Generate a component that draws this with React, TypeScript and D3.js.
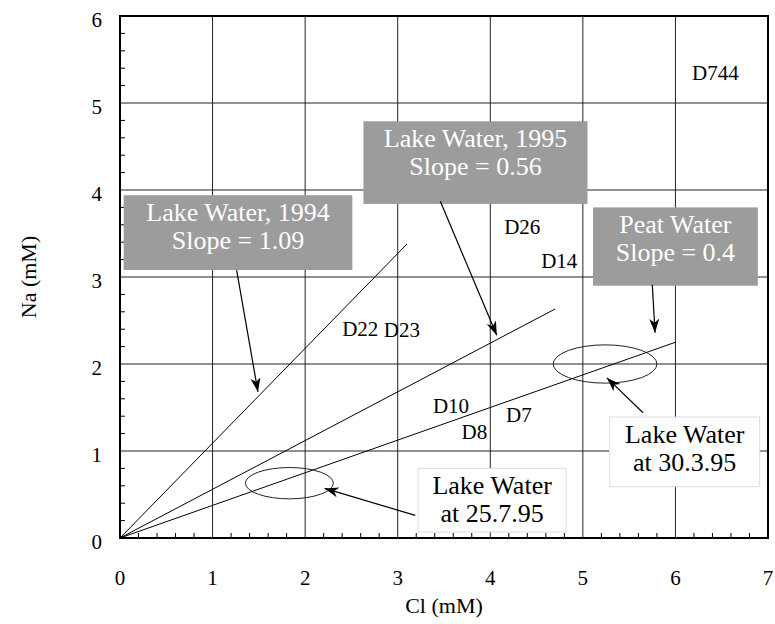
import React from 'react';
import * as d3 from 'd3';

const W = 775;
const H = 624;
const margin = { left: 120, right: 7, top: 16, bottom: 86 };

const xTicks = [0, 1, 2, 3, 4, 5, 6, 7];
const yTicks = [0, 1, 2, 3, 4, 5, 6];

// mixing lines through the origin: slope and last Cl value
const lineSlopes = [1.09, 0.56, 0.375];
const lineEndCl = [3.1, 4.7, 6.0];

// sample labels
const sampleNames = ['D744', 'D26', 'D14', 'D22', 'D23', 'D10', 'D8', 'D7'];
const sampleCl = [6.18, 4.15, 4.55, 2.4, 2.85, 3.38, 3.69, 4.17];
const sampleNa = [5.26, 3.49, 3.1, 2.32, 2.31, 1.44, 1.14, 1.33];

// callout boxes (data units): [x0, x1, yTop, yBottom]
const calloutText = [
  ['Lake Water, 1994', 'Slope = 1.09'],
  ['Lake Water, 1995', 'Slope = 0.56'],
  ['Peat Water', 'Slope = 0.4'],
  ['Lake Water', 'at 25.7.95'],
  ['Lake Water', 'at 30.3.95'],
];
const calloutBox = [
  [0.04, 2.51, 3.94, 3.08],
  [2.63, 5.05, 4.79, 3.84],
  [5.11, 6.89, 3.8, 2.9],
  [3.22, 4.82, 0.8, 0.07],
  [5.29, 6.91, 1.39, 0.59],
];
const calloutGray = [true, true, true, false, false];

// arrows: [tailCl, tailNa, tipCl, tipNa]
const arrows = [
  [1.26, 3.08, 1.49, 1.68],
  [3.46, 3.87, 4.07, 2.33],
  [5.75, 2.91, 5.78, 2.36],
  [5.65, 1.44, 5.26, 1.84],
  [3.19, 0.26, 2.21, 0.57],
];

// ellipses: [cx, cy, rx, ry] in data units
const ellipses = [
  [1.83, 0.63, 0.475, 0.18],
  [5.24, 2.0, 0.56, 0.22],
];

const FONT = 'Liberation Serif';

export default function App() {
  const x = d3.scaleLinear().domain([0, 7]).range([margin.left, W - margin.right]);
  const y = d3.scaleLinear().domain([0, 6]).range([H - margin.bottom, margin.top]);
  const minor = d3.range(0, 7.001, 0.2).filter(v => Math.abs(v - Math.round(v)) > 0.01);
  const minorY = d3.range(0, 6.001, 0.2).filter(v => Math.abs(v - Math.round(v)) > 0.01);
  const x0 = x(0), x1 = x(7), y0 = y(0), y1 = y(6);

  return (
    <svg width={W} height={H} style={{ position: 'absolute', left: 0, top: 0, background: '#fff' }}>
      <defs>
        <marker id="ah" markerUnits="userSpaceOnUse" markerWidth="16" markerHeight="12" refX="14" refY="5" orient="auto">
          <path d="M0,0 L14,5 L0,10 L4,5 Z" fill="#000" />
        </marker>
      </defs>

      {/* grid */}
      {xTicks.slice(1, -1).map(t => (
        <line key={'gx' + t} x1={x(t)} x2={x(t)} y1={y0} y2={y1} stroke="#222" strokeWidth={1} />
      ))}
      {yTicks.slice(1, -1).map(t => (
        <line key={'gy' + t} x1={x0} x2={x1} y1={y(t)} y2={y(t)} stroke="#222" strokeWidth={1} />
      ))}

      {/* minor ticks */}
      {minor.map(t => (
        <line key={'mx' + t} x1={x(t)} x2={x(t)} y1={y0} y2={y0 - 5} stroke="#000" strokeWidth={1} />
      ))}
      {minorY.map(t => (
        <line key={'my' + t} x1={x0} x2={x0 + 5} y1={y(t)} y2={y(t)} stroke="#000" strokeWidth={1} />
      ))}

      {/* mixing lines */}
      {lineSlopes.map((s, i) => (
        <line key={'l' + i} x1={x(0)} y1={y(0)} x2={x(lineEndCl[i])} y2={y(s * lineEndCl[i])} stroke="#000" strokeWidth={1} />
      ))}

      {/* ellipses */}
      {ellipses.map((e, i) => (
        <ellipse key={'e' + i} cx={x(e[0])} cy={y(e[1])} rx={x(e[2]) - x(0)} ry={y(0) - y(e[3])}
          fill="none" stroke="#222" strokeWidth={1} />
      ))}

      {/* callout boxes */}
      {calloutBox.map((b, i) => {
        const bx = x(b[0]), bw = x(b[1]) - x(b[0]);
        const by = y(b[2]), bh = y(b[3]) - y(b[2]);
        const cx = bx + bw / 2;
        return (
          <g key={'c' + i}>
            <rect x={bx} y={by} width={bw} height={bh}
              fill={calloutGray[i] ? '#9c9c9c' : '#fff'}
              stroke={calloutGray[i] ? 'none' : '#ddd'} strokeWidth={1} />
            {calloutText[i].map((t, j) => (
              <text key={j} x={cx} y={by + 26 + j * 28} textAnchor="middle" fontSize={26} fontFamily={FONT}
                fill={calloutGray[i] ? '#fff' : '#000'}>{t}</text>
            ))}
          </g>
        );
      })}

      {/* arrows */}
      {arrows.map((a, i) => (
        <line key={'a' + i} x1={x(a[0])} y1={y(a[1])} x2={x(a[2])} y2={y(a[3])}
          stroke="#000" strokeWidth={1.2} markerEnd="url(#ah)" />
      ))}

      {/* sample labels */}
      {sampleNames.map((n, i) => (
        <text key={n} x={x(sampleCl[i])} y={y(sampleNa[i])} fontSize={21} fontFamily={FONT} fill="#000">{n}</text>
      ))}

      {/* frame */}
      <rect x={x0} y={y1} width={x1 - x0} height={y0 - y1} fill="none" stroke="#000" strokeWidth={2} />

      {/* tick labels */}
      {xTicks.map(t => (
        <text key={'tx' + t} x={x(t)} y={y0 + 47} textAnchor="middle" fontSize={21} fontFamily={FONT}>{t}</text>
      ))}
      {yTicks.map(t => (
        <text key={'ty' + t} x={x0 - 18} y={y(t) + 11} textAnchor="end" fontSize={21} fontFamily={FONT}>{t}</text>
      ))}

      {/* axis titles */}
      <text x={(x0 + x1) / 2} y={613} textAnchor="middle" fontSize={22} fontFamily={FONT}>Cl (mM)</text>
      <text transform={`translate(36,${(y0 + y1) / 2}) rotate(-90)`} textAnchor="middle" fontSize={22} fontFamily={FONT}>Na (mM)</text>
    </svg>
  );
}
